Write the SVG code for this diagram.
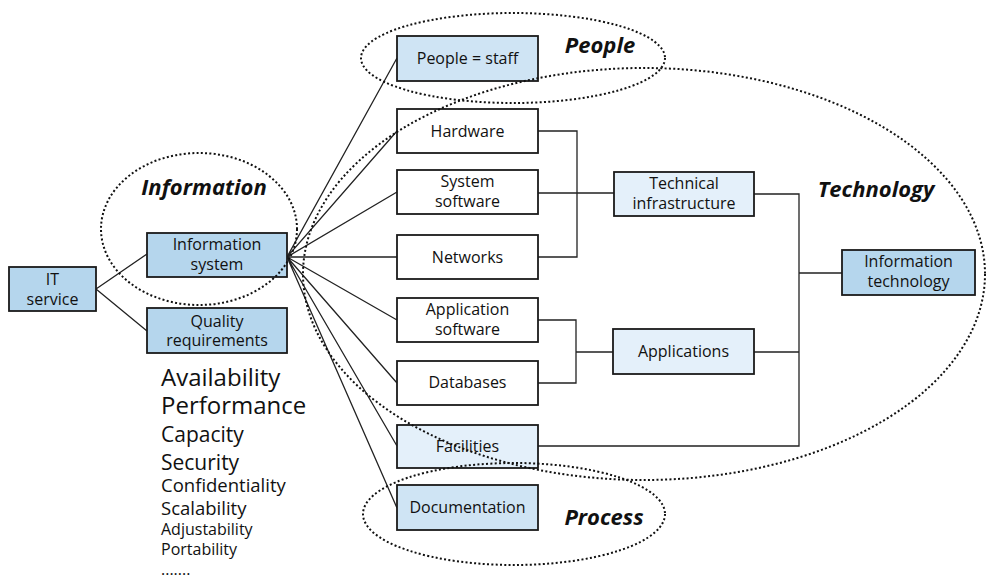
<svg xmlns="http://www.w3.org/2000/svg" width="986" height="579" viewBox="0 0 986 579">
<style>
.box{stroke:#1a1a1a;stroke-width:1.8}
.mid{fill:#b5d6ed}
.lt{fill:#cfe4f4}
.vl{fill:#e4f0fa}
.wh{fill:#ffffff}
.t{font-family:"Open Sans","Noto Sans",sans-serif;font-size:16px;fill:#111;text-anchor:middle}
.lab{font-family:"Open Sans","Noto Sans",sans-serif;font-size:22px;font-weight:bold;font-style:italic;fill:#111;text-anchor:middle}
.q{font-family:"Open Sans","Noto Sans",sans-serif;fill:#111}
.con{stroke:#222;stroke-width:1.3;fill:none}
.dot{fill:none;stroke:#111;stroke-width:2;stroke-dasharray:2 2.3}
</style>
<rect width="986" height="579" fill="#ffffff"/>
<g id="connectors">
<path class="con" d="M96,289 L147,254 M96,289 L147,331"/>
<path class="con" d="M287,257 L397,58 M287,257 L397,131 M287,257 L397,192 M287,257 L397,257 M287,257 L397,320 M287,257 L397,383 M287,257 L397,446 M287,257 L397,508"/>
<path class="con" d="M538,131 H577 V257 H538 M538,193 H614"/>
<path class="con" d="M538,320 H576 V383 H538 M576,352 H613"/>
<path class="con" d="M754,194 H799 V446 H538 M754,352 H799 M799,273 H842"/>
</g>
<g id="it-service"><rect class="box mid" x="9" y="267" width="87" height="44"/><text class="t" x="52.5" y="285">IT</text><text class="t" x="52.5" y="305">service</text></g>
<g id="information-system"><rect class="box mid" x="147" y="233" width="140" height="44"/><text class="t" x="217" y="250">Information</text><text class="t" x="217" y="270">system</text></g>
<g id="quality-requirements"><rect class="box mid" x="147" y="308" width="140" height="45"/><text class="t" x="217" y="327">Quality</text><text class="t" x="217" y="346">requirements</text></g>
<g id="people-staff"><rect class="box lt" x="397" y="36" width="141" height="45"/><text class="t" x="467.5" y="64">People = staff</text></g>
<g id="hardware"><rect class="box wh" x="397" y="109" width="141" height="44"/><text class="t" x="467.5" y="137">Hardware</text></g>
<g id="system-software"><rect class="box wh" x="397" y="170" width="141" height="44"/><text class="t" x="467.5" y="187">System</text><text class="t" x="467.5" y="207">software</text></g>
<g id="networks"><rect class="box wh" x="397" y="235" width="141" height="44"/><text class="t" x="467.5" y="263">Networks</text></g>
<g id="application-software"><rect class="box wh" x="397" y="298" width="141" height="44"/><text class="t" x="467.5" y="315">Application</text><text class="t" x="467.5" y="335">software</text></g>
<g id="databases"><rect class="box wh" x="397" y="361" width="141" height="44"/><text class="t" x="467.5" y="388">Databases</text></g>
<g id="facilities"><rect class="box vl" x="397" y="425" width="141" height="43"/><text class="t" x="467.5" y="452">Facilities</text></g>
<g id="documentation"><rect class="box lt" x="397" y="485" width="141" height="45"/><text class="t" x="467.5" y="513">Documentation</text></g>
<g id="technical-infrastructure"><rect class="box vl" x="614" y="172" width="140" height="44"/><text class="t" x="684" y="189">Technical</text><text class="t" x="684" y="209">infrastructure</text></g>
<g id="applications"><rect class="box vl" x="613" y="329" width="141" height="45"/><text class="t" x="683.5" y="357">Applications</text></g>
<g id="information-technology"><rect class="box mid" x="842" y="250" width="133" height="45"/><text class="t" x="908.5" y="267">Information</text><text class="t" x="908.5" y="287">technology</text></g>
<g id="groups">
<ellipse class="dot" cx="199" cy="229" rx="98" ry="76"/>
<ellipse class="dot" cx="513" cy="58" rx="152" ry="45"/>
<ellipse class="dot" cx="514" cy="514" rx="151" ry="51"/>
<ellipse class="dot" cx="644" cy="274" rx="341" ry="206"/>
<text class="lab" x="204" y="195">Information</text>
<text class="lab" x="600" y="53">People</text>
<text class="lab" x="876" y="197">Technology</text>
<text class="lab" x="604" y="525">Process</text>
</g>
<g id="quality-list" class="q">
<text x="161" y="386" font-size="24">Availability</text>
<text x="161" y="414" font-size="24">Performance</text>
<text x="161" y="442" font-size="21">Capacity</text>
<text x="161" y="470" font-size="21">Security</text>
<text x="161" y="492" font-size="18.5">Confidentiality</text>
<text x="161" y="515" font-size="18.5">Scalability</text>
<text x="161" y="535" font-size="16">Adjustability</text>
<text x="161" y="555" font-size="16">Portability</text>
<text x="161" y="575" font-size="16">.......</text>
</g>
</svg>
